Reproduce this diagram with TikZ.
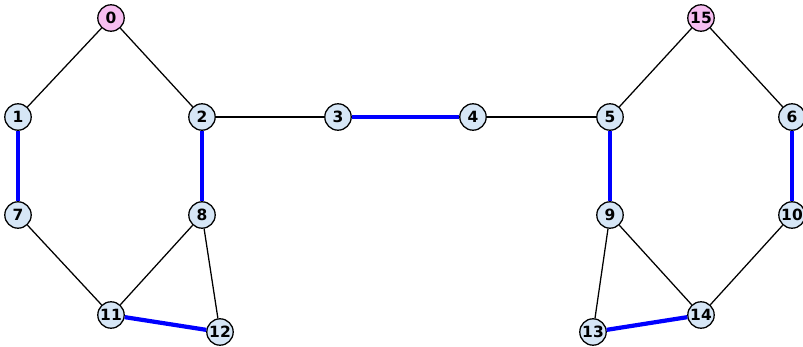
\documentclass[tikz,border=0pt]{standalone}
\usepackage{fontspec}
\setmainfont{DejaVu Sans}
\usepackage{xcolor}
\usepackage{tikz}
\usetikzlibrary{positioning}
\definecolor{vtxblue}{RGB}{214,230,246}
\definecolor{vtxpink}{RGB}{246,190,240}
\tikzset{
  % vertex styles
  vertex/.style={circle, draw=black, line width=0.9pt, fill=#1, minimum size=0.66cm, inner sep=0pt, font=\bfseries\fontsize{11}{11}\selectfont},
  vertex/.default={vtxblue},
  % edge styles
  edge/.style={line width=0.9pt, draw=black},
  matched/.style={line width=3pt, draw=blue},
}

\begin{document}
\begin{tikzpicture}[x=0.025cm, y=-0.025cm]
    \useasboundingbox (0,0) rectangle (803,347);

    % Left part
    \node[vertex=vtxpink] (v0) at (111,18) {0};
    \node[vertex] (v1) at (18,117) {1};
    \node[vertex] (v2) at (202,117) {2};
    \node[vertex] (v7) at (18,215) {7};
    \node[vertex] (v8) at (202,215) {8};
    \node[vertex] (v11) at (111,315) {11};
    \node[vertex] (v12) at (220,332) {12};

    % Middle
    \node[vertex] (v3) at (338,117) {3};
    \node[vertex] (v4) at (473,117) {4};

    % Right part
    \node[vertex=vtxpink] (v15) at (701,18) {15};
    \node[vertex] (v5) at (610,117) {5};
    \node[vertex] (v6) at (792,117) {6};
    \node[vertex] (v9) at (610,215) {9};
    \node[vertex] (v10) at (792,215) {10};
    \node[vertex] (v13) at (593,332) {13};
    \node[vertex] (v14) at (701,315) {14};

    % Edges
    \foreach \a/\b in {v0/v1, v0/v2, v2/v3, v4/v5, v5/v15, v15/v6, v7/v11, v8/v11, v8/v12, v9/v13, v9/v14, v10/v14}
      \draw[edge] (\a) -- (\b);

    % Matching
    \foreach \a/\b in {v3/v4, v1/v7, v2/v8, v11/v12, v5/v9, v6/v10, v13/v14}
      \draw[matched] (\a) -- (\b);
  \end{tikzpicture}
\end{document}
